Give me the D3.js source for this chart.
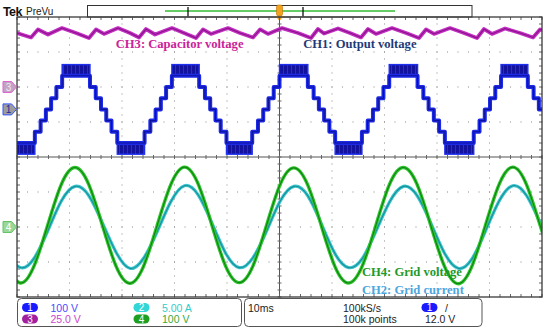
<!DOCTYPE html>
<html>
<head>
<meta charset="utf-8">
<script src="https://cdn.jsdelivr.net/npm/d3@7"></script>
<style>
  body { margin: 0; background: #fff; }
  svg { display: block; }
</style>
</head>
<body>
<svg id="scope" width="550" height="332"></svg>
<script>
// values (time in ms, 10 ms/div)
const channelNames = ["1", "2", "3", "4"];
const channelScale = [100, 5, 25, 100];          // units per division
const channelScaleText = ["100 V", "5.00 A", "25.0 V", "100 V"];
const channelOffsets = [1.36, -2, 2, -2];        // ground position in divisions

// CH4 grid voltage / CH2 grid current, sampled every 2.606 ms from -1.98 ms
const sampleStart = -1.98;
const sampleStep = 2.606;
const gridVoltage = [
  -112, -160, -112, 5, 122, 170, 122, 5,
  -112, -161, -113, 4, 121, 171, 123, 6,
  -111, -159, -112, 5, 122, 169, 121, 4,
  -113, -160, -111, 6, 123, 170, 122, 5,
  -112, -162, -113, 5, 122, 171, 121, 4, -112
];
const gridCurrent = [
  -3.7, -5.8, -4.5, -0.6, 3.7, 5.8, 4.5, 0.6,
  -3.6, -5.9, -4.5, -0.7, 3.6, 5.9, 4.6, 0.6,
  -3.7, -5.8, -4.4, -0.6, 3.7, 5.8, 4.5, 0.5,
  -3.8, -5.8, -4.5, -0.6, 3.6, 5.8, 4.5, 0.6,
  -3.7, -5.9, -4.6, -0.6, 3.7, 5.9, 4.5, 0.6, -3.7
];

// CH3 capacitor voltage ripple
const capTimes = [
  0, 2.67, 4.0, 5.9, 8.57, 11.24,
  13.71, 15.05, 16.57, 19.24, 21.52,
  23.24, 24.57, 26.29, 29.52, 31.81,
  34.10, 35.43, 36.95, 40.19, 42.48,
  44.95, 46.29, 47.81, 50.48, 53.52,
  56.0, 57.33, 58.48, 61.14, 63.43,
  65.52, 66.86, 68.38, 71.43, 74.1,
  76.57, 77.9, 79.43, 82.48, 85.14,
  87.62, 88.95, 90.48, 92.95, 95.81,
  98.29, 99.62, 100
];
const capVolts = [
  38.6, 35.4, 41.1, 37.5, 42.1, 38.6,
  35.0, 41.1, 37.9, 42.1, 38.6,
  35.4, 41.4, 37.5, 42.1, 38.6,
  35.0, 41.1, 37.9, 42.1, 38.6,
  35.4, 41.1, 37.9, 42.1, 38.6,
  35.0, 41.4, 38.2, 41.8, 38.6,
  35.4, 41.4, 37.9, 42.1, 38.6,
  35.0, 41.1, 37.9, 42.1, 38.6,
  35.0, 41.4, 37.9, 41.8, 38.6,
  35.4, 41.1, 40.7
];

// CH1 output voltage: multilevel staircase
const outRisingZeros = [6.0, 26.9, 47.4, 68.3, 89.6];
const outFallingZeros = [-4.4, 16.5, 37.3, 58.0, 78.9, 99.9];
const stepOffsets = [0.5, 1.5, 2.6];   // ms from the zero crossing
const stepLevels = [32, 64, 96];       // V
const pulseLevel = 128;                // V, PWM on the plateaus

const labels = [
  { text: "CH3: Capacitor voltage", t: 18.8, div: 3.11, color: "#cc2299" },
  { text: "CH1: Output voltage", t: 54.5, div: 3.11, color: "#1f3a78" },
  { text: "CH4: Grid voltage", t: 65.7, div: -3.4, color: "#22992a" },
  { text: "CH2: Grid current", t: 65.7, div: -3.9, color: "#4da6dd" }
];

const svg = d3.select("#scope");
const plot = { left: 17, right: 542, top: 17, bottom: 297 };
const x = d3.scaleLinear().domain([0, 100]).range([plot.left, plot.right]);
const y = d3.scaleLinear().domain([-4, 4]).range([plot.bottom, plot.top]);
const yCh = (ch, v) => y(channelOffsets[ch] + v / channelScale[ch]);

const defs = svg.append("defs");
defs.append("clipPath").attr("id", "clip")
  .append("rect")
  .attr("x", plot.left).attr("y", plot.top)
  .attr("width", plot.right - plot.left).attr("height", plot.bottom - plot.top);
const pwm = defs.append("pattern").attr("id", "pwm")
  .attr("width", 4).attr("height", 4).attr("patternUnits", "userSpaceOnUse");
pwm.append("rect").attr("width", 4).attr("height", 4).attr("fill", "#12129e");
pwm.append("rect").attr("x", 3).attr("width", 1).attr("height", 4).attr("fill", "#2030d8");

// ---------- header ----------
svg.append("text").attr("x", 3).attr("y", 16)
  .attr("font-family", "Liberation Sans, Arial, sans-serif")
  .attr("font-size", 12.5).attr("font-weight", "bold").attr("letter-spacing", -0.6)
  .attr("fill", "#111").text("Tek");
svg.append("text").attr("x", 26).attr("y", 15)
  .attr("font-family", "Liberation Sans, Arial, sans-serif")
  .attr("font-size", 10).attr("fill", "#222").text("PreVu");

svg.append("rect").attr("x", 87.5).attr("y", 5.5).attr("width", 384.5).attr("height", 11.5)
  .attr("fill", "#fff").attr("stroke", "#333").attr("stroke-width", 1);
svg.append("line").attr("x1", 165).attr("x2", 395).attr("y1", 11).attr("y2", 11)
  .attr("stroke", "#33bb33").attr("stroke-width", 1.3);
[188, 303].forEach(px => {
  svg.append("line").attr("x1", px).attr("x2", px).attr("y1", 7).attr("y2", 16.5)
    .attr("stroke", "#111").attr("stroke-width", 1.3);
});
svg.append("rect").attr("x", 276.5).attr("y", 5).attr("width", 6).attr("height", 11).attr("rx", 2)
  .attr("fill", "#f2a21e").attr("stroke", "#c07000").attr("stroke-width", 0.6);
svg.append("path").attr("d", "M275.5,16 L283.5,16 L279.5,21 Z").attr("fill", "#f2a21e");

// ---------- graticule ----------
const grid = svg.append("g");
const minorT = d3.range(0, 100.01, 2);
const minorDiv = d3.range(-4, 4.01, 0.2);

[-3, -2, -1, 1, 2, 3].forEach(dv => {
  grid.selectAll(null).data(minorT).enter().append("rect")
    .attr("x", d => x(d) - 0.5).attr("y", y(dv) - 0.5)
    .attr("width", 1).attr("height", 1).attr("fill", "#8c8c8c");
});
[10, 20, 30, 40, 60, 70, 80, 90].forEach(tv => {
  grid.selectAll(null).data(minorDiv).enter().append("rect")
    .attr("x", x(tv) - 0.5).attr("y", d => y(d) - 0.5)
    .attr("width", 1).attr("height", 1).attr("fill", "#8c8c8c");
});

// centre lines with minor ticks
grid.append("line").attr("x1", plot.left).attr("x2", plot.right)
  .attr("y1", y(0)).attr("y2", y(0)).attr("stroke", "#555").attr("stroke-width", 1);
grid.append("line").attr("x1", x(50)).attr("x2", x(50))
  .attr("y1", plot.top).attr("y2", plot.bottom).attr("stroke", "#555").attr("stroke-width", 1);
grid.selectAll(null).data(minorT).enter().append("line")
  .attr("x1", d => x(d)).attr("x2", d => x(d))
  .attr("y1", y(0) - 2).attr("y2", y(0) + 2).attr("stroke", "#666");
grid.selectAll(null).data(minorDiv).enter().append("line")
  .attr("x1", x(50) - 2).attr("x2", x(50) + 2)
  .attr("y1", d => y(d)).attr("y2", d => y(d)).attr("stroke", "#666");

// border ticks
grid.selectAll(null).data(minorT).enter().append("line")
  .attr("x1", d => x(d)).attr("x2", d => x(d))
  .attr("y1", plot.top).attr("y2", plot.top + 3).attr("stroke", "#666");
grid.selectAll(null).data(minorT).enter().append("line")
  .attr("x1", d => x(d)).attr("x2", d => x(d))
  .attr("y1", plot.bottom - 3).attr("y2", plot.bottom).attr("stroke", "#666");
grid.selectAll(null).data(minorDiv).enter().append("line")
  .attr("x1", plot.left).attr("x2", plot.left + 3)
  .attr("y1", d => y(d)).attr("y2", d => y(d)).attr("stroke", "#666");
grid.selectAll(null).data(minorDiv).enter().append("line")
  .attr("x1", plot.right - 3).attr("x2", plot.right)
  .attr("y1", d => y(d)).attr("y2", d => y(d)).attr("stroke", "#666");

// ---------- traces ----------
const traces = svg.append("g").attr("clip-path", "url(#clip)");

function drawTrace(points, ch, outer, inner, width, curve) {
  const line = d3.line().x(d => x(d[0])).y(d => yCh(ch, d[1])).curve(curve);
  traces.append("path").attr("d", line(points)).attr("fill", "none")
    .attr("stroke", outer).attr("stroke-width", width).attr("stroke-linejoin", "round");
  traces.append("path").attr("d", line(points)).attr("fill", "none")
    .attr("stroke", inner).attr("stroke-width", 1.1).attr("stroke-opacity", 0.8);
}

// CH3
const capPoints = capTimes.map((t, i) => [t, capVolts[i]]);
drawTrace(capPoints, 2, "#c22fc2", "#7a0a7a", 3.8, d3.curveLinear);

// CH1 staircase
const events = [[-12, stepLevels[2]]];
outRisingZeros.forEach(tz => {
  stepOffsets.forEach((o, i) => {
    events.push([tz - o, i === 0 ? 0 : -stepLevels[i - 1]]);
    events.push([tz + o, stepLevels[i]]);
  });
});
outFallingZeros.forEach(tf => {
  stepOffsets.forEach((o, i) => {
    events.push([tf - o, i === 0 ? 0 : stepLevels[i - 1]]);
    events.push([tf + o, -stepLevels[i]]);
  });
});
events.sort((a, b) => a[0] - b[0]);
events.push([110, events[events.length - 1][1]]);

const lastOff = stepOffsets[stepOffsets.length - 1];
const plateaus = [];
plateaus.push({ t0: -12, t1: outFallingZeros[0] - lastOff, sign: 1 });
outRisingZeros.forEach((tz, i) => {
  plateaus.push({ t0: outFallingZeros[i] + lastOff, t1: tz - lastOff, sign: -1 });
  if (outFallingZeros[i + 1] !== undefined) {
    plateaus.push({ t0: tz + lastOff, t1: outFallingZeros[i + 1] - lastOff, sign: 1 });
  }
});
traces.selectAll(null).data(plateaus).enter().append("rect")
  .attr("x", d => x(d.t0))
  .attr("width", d => x(d.t1) - x(d.t0))
  .attr("y", d => d.sign > 0 ? yCh(0, pulseLevel) : yCh(0, -stepLevels[2]))
  .attr("height", yCh(0, 0) - yCh(0, pulseLevel - stepLevels[2]))
  .attr("fill", "url(#pwm)").attr("stroke", "#1f2ff0").attr("stroke-width", 1.4);
drawTrace(events, 0, "#1c2ae6", "#0a0a8a", 4, d3.curveStepAfter);

// CH2 and CH4
const gridPoints = (vals) => vals.map((v, i) => [sampleStart + i * sampleStep, v]);
drawTrace(gridPoints(gridCurrent), 1, "#38c6cc", "#137f8c", 3.2, d3.curveNatural);
drawTrace(gridPoints(gridVoltage), 3, "#2fc52f", "#0a700a", 3.4, d3.curveNatural);

// border on top
svg.append("rect").attr("x", plot.left).attr("y", plot.top)
  .attr("width", plot.right - plot.left).attr("height", plot.bottom - plot.top)
  .attr("fill", "none").attr("stroke", "#3a3a3a").attr("stroke-width", 1.3);

// ---------- channel labels in the screen ----------
svg.selectAll(null).data(labels).enter().append("text")
  .attr("x", d => x(d.t)).attr("y", d => y(d.div))
  .attr("font-family", "Liberation Serif, Times New Roman, serif")
  .attr("font-size", 12.6).attr("font-weight", "bold")
  .attr("fill", d => d.color).text(d => d.text);

// ---------- ground markers on the left ----------
const markers = [
  { ch: 2, fill: "#c3a3c3", stroke: "#dd66cc", text: "#f6e6f6" },
  { ch: 0, fill: "#9c9c9c", stroke: "#3355ff", text: "#1a2a9a" },
  { ch: 3, fill: "#9ad89a", stroke: "#66c266", text: "#ffffff" }
];
markers.forEach(m => {
  const cy = y(channelOffsets[m.ch]);
  svg.append("path")
    .attr("d", `M3,${cy - 5.5} L11.5,${cy - 5.5} L16.5,${cy} L11.5,${cy + 5.5} L3,${cy + 5.5} Z`)
    .attr("fill", m.fill).attr("stroke", m.stroke).attr("stroke-width", 1).attr("stroke-linejoin", "round");
  svg.append("text").attr("x", 8.5).attr("y", cy + 3.7).attr("text-anchor", "middle")
    .attr("font-family", "Liberation Sans, Arial, sans-serif").attr("font-size", 10)
    .attr("fill", m.text).text(channelNames[m.ch]);
});

// ---------- readout panels ----------
const sans = "Liberation Sans, Arial, sans-serif";
svg.append("rect").attr("x", 17.5).attr("y", 298.5).attr("width", 224).attr("height", 28)
  .attr("rx", 4).attr("fill", "#fff").attr("stroke", "#555").attr("stroke-width", 1);
svg.append("rect").attr("x", 244.5).attr("y", 298.5).attr("width", 237.5).attr("height", 28)
  .attr("rx", 4).attr("fill", "#fff").attr("stroke", "#555").attr("stroke-width", 1);

const badgeFill = ["#1a1aff", "#33d6d6", "#a020a0", "#1f9f1f"];
const textFill = ["#4a4aff", "#33cccc", "#cc44cc", "#3aa83a"];
const badgePos = [[30, 307.5], [141.5, 307.5], [30, 319], [141.5, 319]];
channelNames.forEach((name, i) => {
  const [bx, by] = badgePos[i];
  svg.append("rect").attr("x", bx - 8).attr("y", by - 4.6).attr("width", 16).attr("height", 9.2)
    .attr("rx", 4.6).attr("fill", badgeFill[i]);
  svg.append("text").attr("x", bx).attr("y", by + 3.6).attr("text-anchor", "middle")
    .attr("font-family", sans).attr("font-size", 10).attr("fill", "#fff").text(name);
  svg.append("text").attr("x", bx + 20.5).attr("y", by + 4)
    .attr("font-family", sans).attr("font-size", 10.5).attr("fill", textFill[i])
    .text(channelScaleText[i]);
});

svg.append("text").attr("x", 248).attr("y", 311.5).attr("font-family", sans)
  .attr("font-size", 10.5).attr("fill", "#222").text("10ms");
svg.append("text").attr("x", 343).attr("y", 311.5).attr("font-family", sans)
  .attr("font-size", 10.5).attr("fill", "#222").text("100kS/s");
svg.append("text").attr("x", 343).attr("y", 323).attr("font-family", sans)
  .attr("font-size", 10.5).attr("fill", "#222").text("100k points");
svg.append("rect").attr("x", 421.5).attr("y", 302.9).attr("width", 16).attr("height", 9.2)
  .attr("rx", 4.6).attr("fill", badgeFill[0]);
svg.append("text").attr("x", 429.5).attr("y", 311.1).attr("text-anchor", "middle")
  .attr("font-family", sans).attr("font-size", 10).attr("fill", "#fff").text("1");
svg.append("text").attr("x", 445).attr("y", 311.5).attr("font-family", sans)
  .attr("font-size", 10.5).attr("fill", "#222").text("/");
svg.append("text").attr("x", 425).attr("y", 323).attr("font-family", sans)
  .attr("font-size", 10.5).attr("fill", "#222").text("12.0 V");
</script>
</body>
</html>
